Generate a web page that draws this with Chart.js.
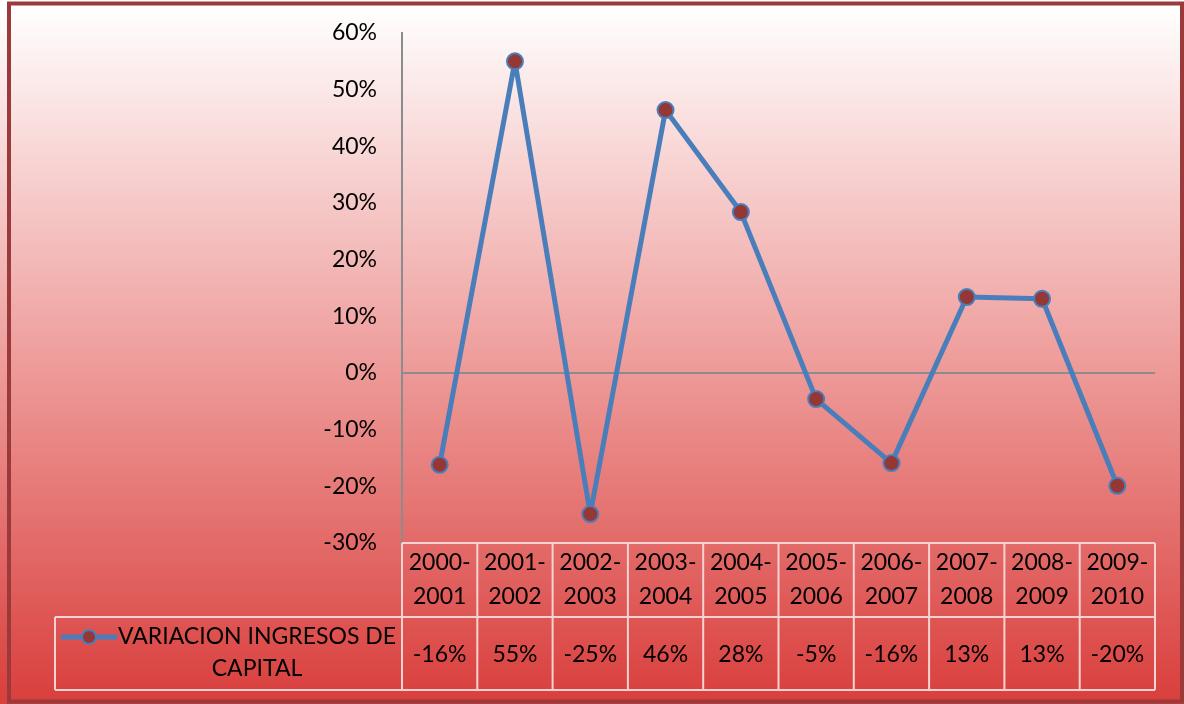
<!DOCTYPE html>
<html>
<head>
<meta charset="utf-8">
<script src="https://cdn.jsdelivr.net/npm/chart.js@4.4.0/dist/chart.umd.min.js"></script>
<style>
  html, body { margin: 0; padding: 0; background: #fff; }
  canvas { display: block; }
</style>
</head>
<body>
<canvas id="chart" width="1184" height="704"></canvas>
<script>
// Data
const periods = ['2000-2001', '2001-2002', '2002-2003', '2003-2004', '2004-2005',
                 '2005-2006', '2006-2007', '2007-2008', '2008-2009', '2009-2010'];
const variacion = [-16.2, 55.0, -24.9, 46.4, 28.4, -4.6, -15.9, 13.4, 13.1, -19.9];
const tableLabels = ['-16%', '55%', '-25%', '46%', '28%', '-5%', '-16%', '13%', '13%', '-20%'];
const seriesName = ['VARIACION INGRESOS DE', 'CAPITAL'];

const FONT = 'Lato, "Open Sans", sans-serif';
const LINE = '#4a7ebb';
const MARK = '#953735';

// Background gradient and frame
const backdrop = {
  id: 'backdrop',
  beforeDraw(chart) {
    const { ctx, width, height } = chart;
    ctx.save();
    const g = ctx.createLinearGradient(0, 6, 0, height - 4);
    g.addColorStop(0, '#ffffff');
    g.addColorStop(0.5, '#ee9f9d');
    g.addColorStop(1, '#d93f3d');
    ctx.fillStyle = g;
    ctx.fillRect(0, 0, width, height);
    ctx.restore();
  },
  afterDraw(chart) {
    const { ctx, width, height } = chart;
    ctx.save();
    ctx.strokeStyle = '#9a3a3a';
    ctx.lineWidth = 4;
    ctx.strokeRect(9, 3.5, width - 11, height - 6);
    ctx.restore();
  }
};

// Data table under the plot, Excel style
const dataTable = {
  id: 'dataTable',
  afterDraw(chart) {
    const { ctx } = chart;
    const x = chart.scales.x;
    const area = chart.chartArea;
    const step = x.getPixelForValue(1) - x.getPixelForValue(0);
    const top = area.bottom;
    const mid = top + 74;
    const bottom = mid + 73;
    const legendLeft = 55;

    ctx.save();
    ctx.strokeStyle = '#f6d2d2';
    ctx.lineWidth = 2;
    ctx.beginPath();
    ctx.moveTo(area.left, top); ctx.lineTo(area.right, top);
    ctx.moveTo(legendLeft, mid); ctx.lineTo(area.right, mid);
    ctx.moveTo(legendLeft, bottom); ctx.lineTo(area.right, bottom);
    ctx.moveTo(legendLeft, mid); ctx.lineTo(legendLeft, bottom);
    for (let i = 0; i <= periods.length; i++) {
      const px = x.getPixelForValue(i) - step / 2;
      ctx.moveTo(px, top); ctx.lineTo(px, bottom);
    }
    ctx.stroke();

    ctx.fillStyle = '#000';
    ctx.font = '23px ' + FONT;
    ctx.textAlign = 'center';
    ctx.textBaseline = 'middle';
    periods.forEach((p, i) => {
      const cx = x.getPixelForValue(i);
      const [a, b] = p.split('-');
      ctx.fillText(a + '-', cx, top + 20);
      ctx.fillText(b, cx, top + 54);
      ctx.fillText(tableLabels[i], cx, mid + 38);
    });

    // legend key
    const ly = mid + 20;
    ctx.strokeStyle = LINE;
    ctx.lineWidth = 5;
    ctx.lineCap = 'round';
    ctx.beginPath();
    ctx.moveTo(63, ly); ctx.lineTo(115, ly);
    ctx.stroke();
    ctx.beginPath();
    ctx.arc(89, ly, 7, 0, Math.PI * 2);
    ctx.fillStyle = MARK;
    ctx.fill();
    ctx.lineWidth = 2;
    ctx.stroke();

    ctx.fillStyle = '#000';
    ctx.fillText(seriesName[0], 257, ly);
    ctx.fillText(seriesName[1], 257, ly + 32);
    ctx.restore();
  }
};

new Chart(document.getElementById('chart'), {
  type: 'line',
  data: {
    labels: periods,
    datasets: [{
      label: seriesName.join(' '),
      data: variacion,
      borderColor: LINE,
      borderWidth: 5,
      borderJoinStyle: 'round',
      tension: 0,
      pointRadius: 8,
      pointBackgroundColor: MARK,
      pointBorderColor: LINE,
      pointBorderWidth: 2,
      fill: false
    }]
  },
  options: {
    responsive: false,
    animation: false,
    layout: { autoPadding: false, padding: { left: 0, top: 33, right: 29, bottom: 0 } },
    plugins: {
      legend: { display: false },
      tooltip: { enabled: false }
    },
    scales: {
      x: {
        offset: true,
        grid: { display: false },
        border: { display: false },
        ticks: { display: false },
        afterFit(scale) { scale.height = 704 - 543; }
      },
      y: {
        min: -30,
        max: 60,
        ticks: {
          stepSize: 10,
          color: '#000',
          padding: 25,
          font: { family: FONT, size: 23 },
          callback: v => v + '%'
        },
        grid: {
          drawTicks: false,
          lineWidth: 2,
          color: ctx => ctx.tick && ctx.tick.value === 0 ? '#8c8c8c' : 'rgba(0,0,0,0)'
        },
        border: { display: true, color: '#8c8c8c', width: 2 },
        afterFit(scale) {
          // tick padding would otherwise push the plot top down
          scale.width = 402;
          scale.paddingTop = 0;
          scale.paddingBottom = 0;
        }
      }
    }
  },
  plugins: [backdrop, dataTable]
});
</script>
</body>
</html>
